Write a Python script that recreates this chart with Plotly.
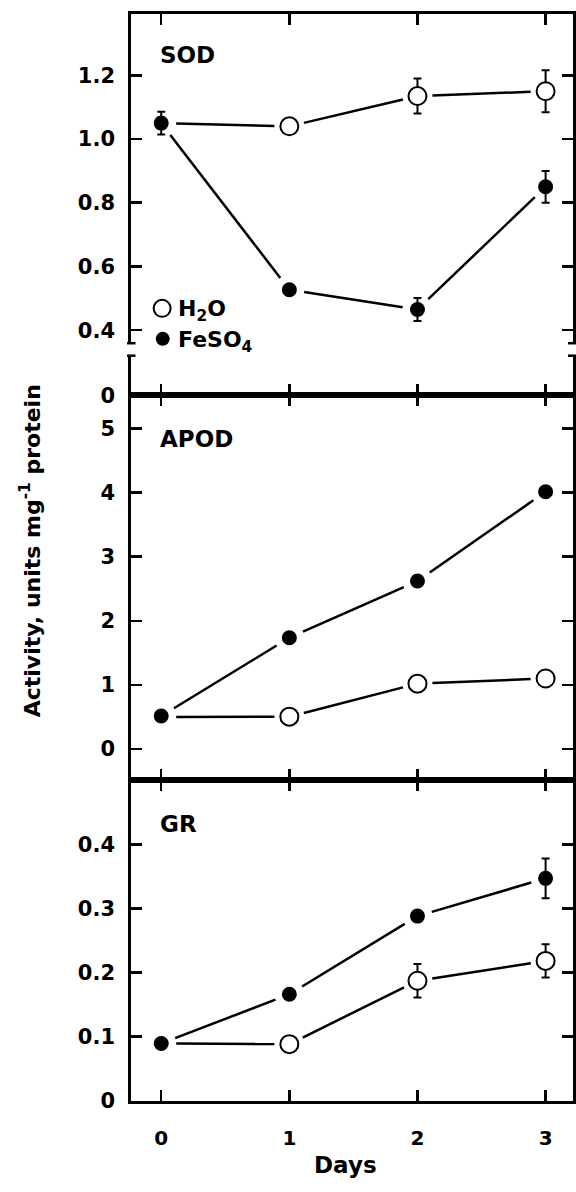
import math
import plotly.graph_objects as go

# ---------------- data ----------------
days = [0, 1, 2, 3]

sod_h2o = [1.05, 1.04, 1.135, 1.15]
sod_h2o_err = [0.0, 0.0, 0.055, 0.066]
sod_fe = [1.05, 0.527, 0.465, 0.85]
sod_fe_err = [0.036, 0.0, 0.036, 0.05]

apod_h2o = [0.50, 0.505, 1.02, 1.10]
apod_h2o_err = [0.0, 0.0, 0.0, 0.0]
apod_fe = [0.515, 1.735, 2.62, 4.01]
apod_fe_err = [0.0, 0.0, 0.0, 0.0]

gr_h2o = [0.089, 0.088, 0.187, 0.218]
gr_h2o_err = [0.0, 0.0, 0.026, 0.026]
gr_fe = [0.089, 0.166, 0.288, 0.347]
gr_fe_err = [0.0, 0.0, 0.0, 0.031]

x_ticks = [0, 1, 2, 3]
sod_ticks = [0.4, 0.6, 0.8, 1.0, 1.2]
sod_ticklabels = ["0.4", "0.6", "0.8", "1.0", "1.2"]
apod_ticks = [0, 1, 2, 3, 4, 5]
gr_ticks = [0, 0.1, 0.2, 0.3, 0.4]
gr_ticklabels = ["0", "0.1", "0.2", "0.3", "0.4"]

panel_names = ["SOD", "APOD", "GR"]
series_names = ["H<sub>2</sub>O", "FeSO<sub>4</sub>"]
y_title = "Activity, units mg<sup>-1</sup> protein"
x_title = "Days"

# ---------------- layout helpers ----------------
W, H = 576, 1192
FONT = "DejaVu Sans, Verdana, sans-serif"


def px(p):
    return p / W


def py(p):
    return 1 - p / H


X_PIX = (131.7, 574.5)
XDOM = [px(X_PIX[0]), px(X_PIX[1])]
XRANGE = [-0.234, 3.21]
LW = 3
TW = 2.5
TL = 11
GAP = 15  # px gap between connecting lines and the markers

# panel geometry: (top px, bottom px, y range)
GR_GEOM = (788.3, 1111.7, [0, 0.5])
APOD_GEOM = (399.3, 788.3, [-0.488, 5.515])
SODLOW_GEOM = (359.3, 399.3, [0, 0.124])
SOD_GEOM = (14, 346.7, [0.359, 1.393])

fig = go.Figure()


def gapped(xs, ys, geom):
    """Split a polyline into segments shortened by GAP px at each end."""
    top, bottom, yr = geom
    sx = (X_PIX[1] - X_PIX[0]) / (XRANGE[1] - XRANGE[0])
    sy = (bottom - top) / (yr[1] - yr[0])
    ox, oy = [], []
    for i in range(len(xs) - 1):
        dx = (xs[i + 1] - xs[i]) * sx
        dy = (ys[i + 1] - ys[i]) * sy
        L = math.hypot(dx, dy)
        t = GAP / L
        for tt in (t, 1 - t):
            ox.append(xs[i] + tt * (xs[i + 1] - xs[i]))
            oy.append(ys[i] + tt * (ys[i + 1] - ys[i]))
        ox.append(None)
        oy.append(None)
    return ox, oy


def add_panel(xa, ya, geom, h2o, h2o_err, fe, fe_err):
    for vals in (h2o, fe):
        lx, ly = gapped(days, vals, geom)
        fig.add_trace(go.Scatter(x=lx, y=ly, mode="lines",
                                 line=dict(color="black", width=2.5),
                                 xaxis=xa, yaxis=ya, showlegend=False,
                                 connectgaps=False, hoverinfo="skip"))
    # H2O open circles (day 0 point lies hidden under the FeSO4 point)
    fig.add_trace(go.Scatter(x=days[1:], y=h2o[1:], mode="markers",
                             marker=dict(color="white", size=18,
                                         line=dict(color="black", width=2)),
                             error_y=dict(type="data", array=h2o_err[1:], visible=True,
                                          color="black", thickness=2, width=4),
                             xaxis=xa, yaxis=ya, showlegend=False))
    # FeSO4 filled circles
    fig.add_trace(go.Scatter(x=days, y=fe, mode="markers",
                             marker=dict(color="black", size=15,
                                         line=dict(color="black", width=0)),
                             error_y=dict(type="data", array=fe_err, visible=True,
                                          color="black", thickness=2, width=4),
                             xaxis=xa, yaxis=ya, showlegend=False))


add_panel("x4", "y4", SOD_GEOM, sod_h2o, sod_h2o_err, sod_fe, sod_fe_err)
add_panel("x2", "y2", APOD_GEOM, apod_h2o, apod_h2o_err, apod_fe, apod_fe_err)
add_panel("x", "y", GR_GEOM, gr_h2o, gr_h2o_err, gr_fe, gr_fe_err)

tickfont = dict(family=FONT, size=21, color="black", weight="bold")
xtickfont = dict(family=FONT, size=20, color="black", weight="bold")

common_x = dict(range=XRANGE, domain=XDOM, tickvals=x_ticks, ticks="inside",
                ticklen=TL, tickwidth=TW, tickcolor="black", showline=True,
                linewidth=LW, linecolor="black", showgrid=False, zeroline=False,
                fixedrange=True)
common_y = dict(ticks="inside", ticklen=TL, tickwidth=TW, tickcolor="black",
                showline=True, linewidth=LW, linecolor="black", showgrid=False,
                zeroline=False, tickfont=tickfont, ticklabelstandoff=9,
                fixedrange=True)


def ydom(geom):
    return [py(geom[1]), py(geom[0])]


fig.update_layout(
    width=W, height=H,
    margin=dict(l=0, r=0, t=0, b=0, pad=0),
    paper_bgcolor="white", plot_bgcolor="white",
    showlegend=False,
    # GR (bottom)
    xaxis=dict(**common_x, anchor="y", mirror="ticks", showticklabels=True,
               tickfont=xtickfont, ticklabelstandoff=17),
    yaxis=dict(**common_y, domain=ydom(GR_GEOM), range=GR_GEOM[2],
               tickvals=gr_ticks, ticktext=gr_ticklabels, mirror="ticks",
               anchor="x"),
    # APOD (middle)
    xaxis2=dict(**common_x, anchor="y2", mirror="ticks", showticklabels=False,
                matches="x"),
    yaxis2=dict(**common_y, domain=ydom(APOD_GEOM), range=APOD_GEOM[2],
                tickvals=apod_ticks, mirror="ticks", anchor="x2"),
    # SOD lower broken segment
    xaxis3=dict(**common_x, anchor="y3", showticklabels=False, matches="x"),
    yaxis3=dict(**common_y, domain=ydom(SODLOW_GEOM), range=SODLOW_GEOM[2],
                tickvals=[0], ticktext=["0"], mirror=True, anchor="x3"),
    # SOD upper segment
    xaxis4=dict(**common_x, anchor="y4", side="top", showticklabels=False,
                matches="x"),
    yaxis4=dict(**common_y, domain=ydom(SOD_GEOM), range=SOD_GEOM[2],
                tickvals=sod_ticks, ticktext=sod_ticklabels, mirror="ticks",
                anchor="x4"),
)

# lower SOD segment (axis break) carries no data
fig.add_trace(go.Scatter(x=[None], y=[None], xaxis="x3", yaxis="y3",
                         showlegend=False, hoverinfo="skip"))

# break caps on the broken axis
for yy in (SOD_GEOM[1], SODLOW_GEOM[0]):
    for x0, x1 in ((127.5, 136), (570, 578)):
        fig.add_shape(type="line", xref="paper", yref="paper",
                      x0=px(x0), x1=px(x1), y0=py(yy), y1=py(yy),
                      line=dict(color="black", width=2.5))

# panel labels
label_font = dict(family=FONT, size=23, color="black", weight="bold")
for name, ypix in zip(panel_names, (56, 443, 832)):
    fig.add_annotation(text=name, xref="paper", yref="paper", x=px(159), y=py(ypix),
                       xanchor="left", yanchor="middle", showarrow=False,
                       font=label_font)

# legend
legend_font = dict(family=FONT, size=22, color="black", weight="bold")
fig.add_shape(type="circle", xref="paper", yref="paper",
              xsizemode="pixel", ysizemode="pixel",
              xanchor=px(162.7), yanchor=py(311.5), x0=-8.5, x1=8.5, y0=-8.5, y1=8.5,
              line=dict(color="black", width=2), fillcolor="white")
fig.add_shape(type="circle", xref="paper", yref="paper",
              xsizemode="pixel", ysizemode="pixel",
              xanchor=px(163.3), yanchor=py(342.3), x0=-7, x1=7, y0=-7, y1=7,
              line=dict(color="black", width=0), fillcolor="black")
for name, ypix in zip(series_names, (314, 345)):
    fig.add_annotation(text=name, xref="paper", yref="paper", x=px(177), y=py(ypix),
                       xanchor="left", yanchor="middle", showarrow=False,
                       font=legend_font)

# axis titles
fig.add_annotation(text=y_title, xref="paper", yref="paper", x=px(31), y=py(556),
                   xanchor="center", yanchor="middle", textangle=-90,
                   showarrow=False, font=dict(family=FONT, size=22, color="black",
                                              weight="bold"))
fig.add_annotation(text=x_title, xref="paper", yref="paper", x=px(347), y=py(1177),
                   xanchor="center", yanchor="middle", showarrow=False,
                   font=dict(family=FONT, size=23, color="black", weight="bold"))

fig.write_html(
    "out.html",
    config={"displayModeBar": False, "staticPlot": True},
    post_script=(
        "document.documentElement.style.margin='0';"
        "document.body.style.margin='0';"
        "document.body.style.overflow='hidden';"
        "var d=document.getElementById('{plot_id}');"
        "d.style.position='fixed';d.style.top='0px';d.style.left='0px';"
    ),
)
